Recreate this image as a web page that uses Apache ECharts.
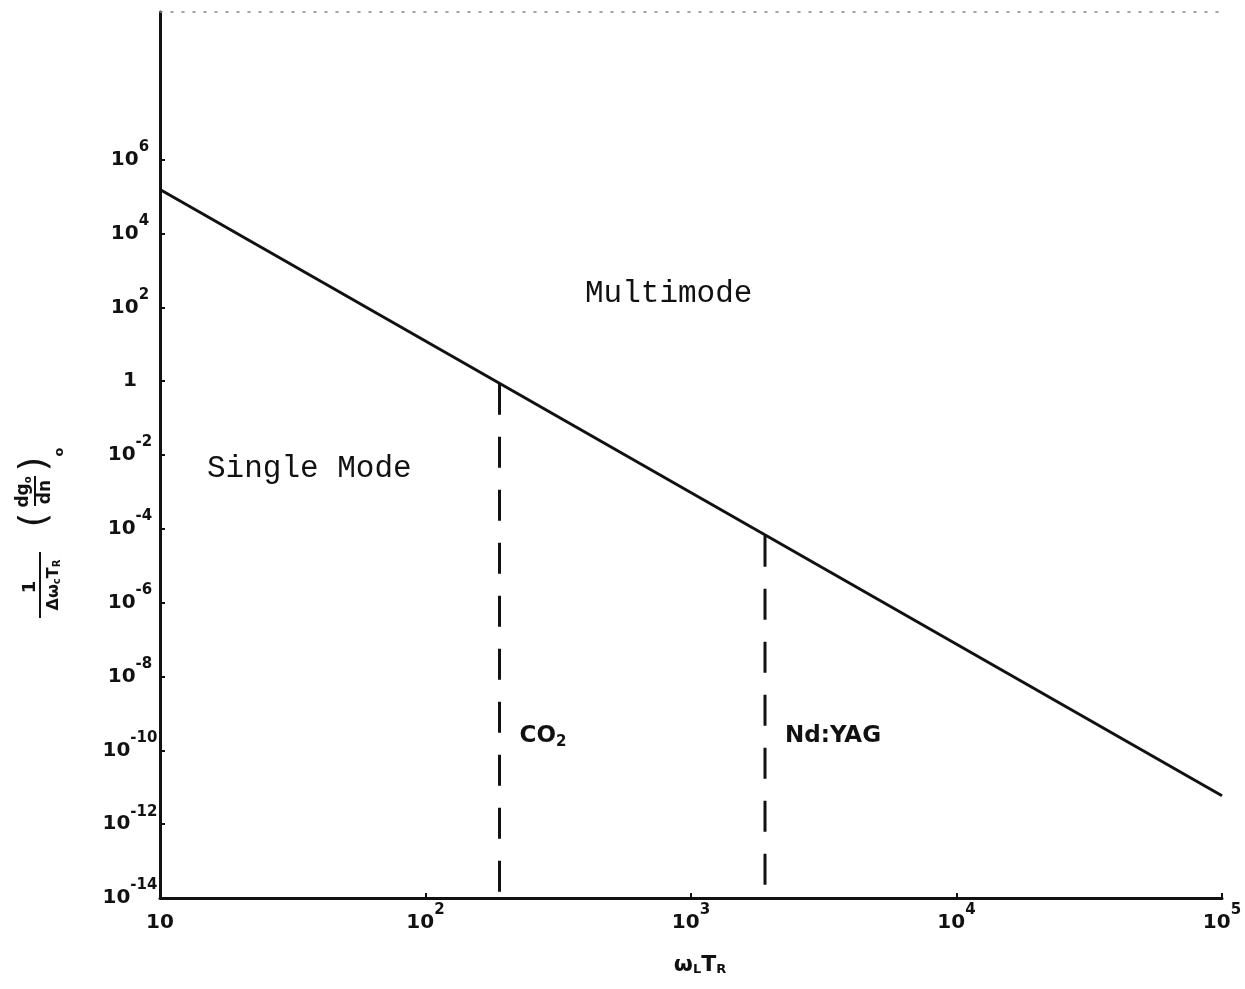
<!DOCTYPE html>
<html>
<head>
<meta charset="utf-8">
<script src="https://cdn.jsdelivr.net/npm/echarts@6/dist/echarts.min.js"></script>
<style>
  html, body { margin: 0; padding: 0; background: #fff; }
  #chart { width: 1245px; height: 989px; }
</style>
</head>
<body>
<div id="chart"></div>
<script>
// Single-mode / multimode boundary versus ω_L T_R (log-log)
const boundaryX = [10, 100000];
const boundaryY = [1.55e5, 5.9e-12];

// Laser operating points (vertical dashed markers)
const laserNames = ['CO', 'Nd:YAG'];
const laserSubs = ['2', ''];
const laserX = [190, 1900];
const laserTopY = [0.85, 6.5e-5];
const floorY = 1e-14;

// Tick labels: [base, exponent]
const xTickValues = [10, 100, 1000, 10000, 100000];
const xTickLabels = [['10', ''], ['10', '2'], ['10', '3'], ['10', '4'], ['10', '5']];
const yTickValues = [1e-14, 1e-12, 1e-10, 1e-8, 1e-6, 1e-4, 1e-2, 1, 1e2, 1e4, 1e6];
const yTickLabels = [['10', '-14'], ['10', '-12'], ['10', '-10'], ['10', '-8'], ['10', '-6'],
                     ['10', '-4'], ['10', '-2'], ['1', ''], ['10', '2'], ['10', '4'], ['10', '6']];

const INK = '#111';
const HAND = '"DejaVu Sans", "Liberation Sans", sans-serif';
const TYPE = '"Liberation Mono", "DejaVu Sans Mono", monospace';

function pow10Label(values, labels) {
  return function (v) {
    const e = Math.round(Math.log10(v));
    for (let i = 0; i < values.length; i++) {
      if (Math.round(Math.log10(values[i])) === e) {
        const l = labels[i];
        return l[1] ? '{b|' + l[0] + '}{s|' + l[1] + '}' : '{b|' + l[0] + '}';
      }
    }
    return '';
  };
}

// Base digits sit in a tall line box; the exponent hugs its top edge.
const supRich = {
  b: { fontFamily: HAND, fontWeight: 'bold', fontSize: 20, color: INK, lineHeight: 40 },
  s: { fontFamily: HAND, fontWeight: 'bold', fontSize: 15, color: INK, lineHeight: 16, verticalAlign: 'top' }
};

const chart = echarts.init(document.getElementById('chart'), null, { renderer: 'canvas' });

const series = [{
  type: 'line',
  data: boundaryX.map((x, i) => [x, boundaryY[i]]),
  symbol: 'none',
  lineStyle: { color: INK, width: 3 },
  z: 3
}];
laserX.forEach((x, i) => {
  series.push({
    type: 'line',
    data: [[x, laserTopY[i]], [x, floorY]],
    symbol: 'none',
    lineStyle: { color: INK, width: 3, type: [31, 22] },
    z: 2
  });
});

chart.setOption({
  animation: false,
  backgroundColor: '#fff',
  grid: { left: 160, right: 23, top: 12, bottom: 91, containLabel: false },
  xAxis: [{
    type: 'log',
    logBase: 10,
    min: 10,
    max: 100000,
    interval: 1,
    axisLine: { lineStyle: { color: INK, width: 3 } },
    axisTick: { inside: true, length: 5, lineStyle: { color: INK, width: 2 } },
    axisLabel: { margin: 5, formatter: pow10Label(xTickValues, xTickLabels), rich: supRich },
    splitLine: { show: false }
  }, {
    type: 'log',
    logBase: 10,
    min: 10,
    max: 100000,
    position: 'top',
    axisLine: { onZero: false, lineStyle: { color: '#888', width: 1.5, type: [2, 9] } },
    axisTick: { show: false },
    axisLabel: { show: false },
    splitLine: { show: false }
  }],
  yAxis: {
    type: 'log',
    logBase: 10,
    min: 1e-14,
    max: 1e10,
    interval: 2,
    axisLine: { show: true, lineStyle: { color: INK, width: 3 } },
    axisTick: { show: true, inside: true, length: 5, lineStyle: { color: INK, width: 2 }, customValues: yTickValues },
    axisLabel: { align: 'center', margin: 30, formatter: pow10Label(yTickValues, yTickLabels), rich: supRich, customValues: yTickValues },
    splitLine: { show: false }
  },
  series: series
});

// Laser labels placed beside their dashed markers
const laserLabels = laserX.map((x, i) => {
  const p = chart.convertToPixel({ gridIndex: 0 }, [x, 3e-10]);
  return {
    type: 'text',
    x: p[0] + 20,
    y: p[1] + 3,
    style: {
      text: laserSubs[i] ? '{m|' + laserNames[i] + '}{u|' + laserSubs[i] + '}' : '{m|' + laserNames[i] + '}',
      rich: {
        m: { fontFamily: HAND, fontWeight: 'bold', fontSize: 23, fill: INK, lineHeight: 26 },
        u: { fontFamily: HAND, fontWeight: 'bold', fontSize: 15, fill: INK, lineHeight: 26, padding: [12, 0, 0, 0] }
      },
      verticalAlign: 'middle'
    }
  };
});

const small = (t, x, y, size, extra) => Object.assign({
  type: 'text', x: x, y: y,
  style: { text: t, fontFamily: HAND, fontWeight: 'bold', fontSize: size, fill: INK, align: 'center', verticalAlign: 'middle' }
}, extra || {});

chart.setOption({
  graphic: [
    {
      type: 'text', left: 585, top: 278,
      style: { text: 'Multimode', fontFamily: TYPE, fontSize: 31, fill: INK }
    },
    {
      type: 'text', left: 207, top: 453,
      style: { text: 'Single Mode', fontFamily: TYPE, fontSize: 31, fill: INK }
    },
    {
      type: 'text', x: 700, y: 965,
      style: {
        text: '{m|ω}{u|L}{m|T}{u|R}',
        align: 'center', verticalAlign: 'middle',
        rich: {
          m: { fontFamily: HAND, fontWeight: 'bold', fontSize: 22, fill: INK, lineHeight: 26 },
          u: { fontFamily: HAND, fontWeight: 'bold', fontSize: 13, fill: INK, lineHeight: 26, padding: [10, 0, 0, 0] }
        }
      }
    },
    // Vertical axis title: 1/(Δω_c T_R) · (dg_0/dn)_0
    {
      type: 'group',
      x: 40, y: 620,
      rotation: Math.PI / 2,
      children: [
        small('1', 33, -10, 18),
        { type: 'line', shape: { x1: 2, y1: 0, x2: 68, y2: 0 }, style: { stroke: INK, lineWidth: 2 } },
        {
          type: 'text', x: 35, y: 14,
          style: {
            text: '{m|Δω}{u|c}{m|T}{u|R}',
            align: 'center', verticalAlign: 'middle',
            rich: {
              m: { fontFamily: HAND, fontWeight: 'bold', fontSize: 16, fill: INK, lineHeight: 18 },
              u: { fontFamily: HAND, fontWeight: 'bold', fontSize: 10, fill: INK, lineHeight: 18, padding: [7, 0, 0, 0] }
            }
          }
        },
        small('(', 100, -5, 38, { style: { text: '(', fontFamily: HAND, fontSize: 38, fill: INK, align: 'center', verticalAlign: 'middle' } }),
        {
          type: 'text', x: 128, y: -16,
          style: {
            text: '{m|dg}{u|o}',
            align: 'center', verticalAlign: 'middle',
            rich: {
              m: { fontFamily: HAND, fontWeight: 'bold', fontSize: 17, fill: INK, lineHeight: 20 },
              u: { fontFamily: HAND, fontWeight: 'bold', fontSize: 10, fill: INK, lineHeight: 20, padding: [8, 0, 0, 0] }
            }
          }
        },
        { type: 'line', shape: { x1: 114, y1: -5, x2: 144, y2: -5 }, style: { stroke: INK, lineWidth: 2 } },
        small('dn', 128, 6, 17),
        small(')', 156, -5, 38, { style: { text: ')', fontFamily: HAND, fontSize: 38, fill: INK, align: 'center', verticalAlign: 'middle' } }),
        small('o', 168, 20, 13)
      ]
    }
  ].concat(laserLabels)
});
</script>
</body>
</html>
